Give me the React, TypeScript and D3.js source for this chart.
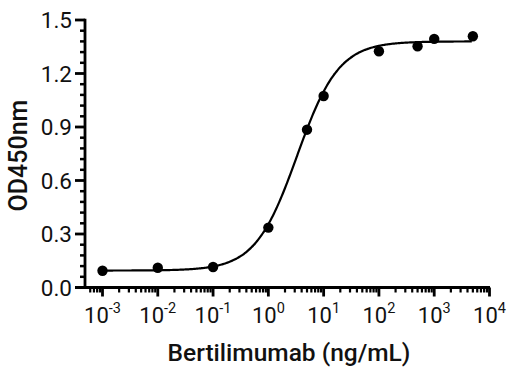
import React, { useEffect } from 'react'
import * as d3 from 'd3'

// measured points (ng/mL vs OD450)
const concentrations = [0.001, 0.01, 0.1, 1, 5, 10, 100, 500, 1000, 5000]
const od450 = [0.094, 0.111, 0.115, 0.336, 0.885, 1.074, 1.325, 1.353, 1.394, 1.409]

// 4PL fit
const fitBottom = 0.095
const fitTop = 1.38
const fitEC50 = 3.3
const fitHill = 1.15

const yTicks = [0, 0.3, 0.6, 0.9, 1.2, 1.5]
const xExponents = [-3, -2, -1, 0, 1, 2, 3, 4]

const width = 516
const height = 370
const font = 'Roboto, "Noto Sans", sans-serif'

const App = () => {
    useEffect(() => {
        document.body.style.margin = '0'
    }, [])

    const x = d3.scaleLog().domain([1e-3, 1e4]).range([102.5, 489.5])
    const y = d3.scaleLinear().domain([0, 1.5]).range([287.5, 20])
    const axisLeft = 85
    const axisRight = 490

    // minor ticks on the log axis, including the bit left of 10^-3
    const xMinor: number[] = []
    for (let e = -4; e < 4; e++) {
        for (let m = 2; m <= 9; m++) {
            const v = m * Math.pow(10, e)
            if (x(v) >= axisLeft + 2 && x(v) < 489) xMinor.push(v)
        }
    }
    const yMinor = d3.range(0, 1.5001, 0.06).filter(v => !yTicks.some(t => Math.abs(t - v) < 1e-6))

    const fourPL = (c: number) => fitBottom + (fitTop - fitBottom) / (1 + Math.pow(fitEC50 / c, fitHill))
    const curveX = d3.range(-3, Math.log10(5000) + 0.0001, 0.02).map(e => Math.pow(10, e))
    const line = d3.line<number>()
        .x(c => x(c))
        .y(c => y(fourPL(c)))
        .curve(d3.curveMonotoneX)

    const points = concentrations.map((c, i) => ({ c, v: od450[i] }))

    return (
        <svg width={width} height={height} style={{ display: 'block', background: '#fff' }} fontFamily={font}>
            {/* y axis */}
            <line x1={axisLeft} x2={axisLeft} y1={y(1.5) - 1.3} y2={y(0) + 1.3} stroke='#000' strokeWidth={2.8} />
            {yTicks.map(t => (
                <g key={'yt' + t}>
                    <line x1={axisLeft - 10} x2={axisLeft} y1={y(t)} y2={y(t)} stroke='#000' strokeWidth={2.8} />
                    <text x={72} y={y(t) + 8} textAnchor='end' fontSize={22.5} fill='#111'>{t.toFixed(1)}</text>
                </g>
            ))}
            {yMinor.map(t => (
                <line key={'ym' + t} x1={axisLeft - 5} x2={axisLeft} y1={y(t)} y2={y(t)} stroke='#000' strokeWidth={2.5} />
            ))}

            {/* x axis */}
            <line x1={axisLeft - 10} x2={axisRight} y1={y(0)} y2={y(0)} stroke='#000' strokeWidth={2.8} />
            {xExponents.map(e => {
                const v = Math.pow(10, e)
                return (
                    <g key={'xt' + e}>
                        <line x1={x(v)} x2={x(v)} y1={y(0)} y2={y(0) + 9} stroke='#000' strokeWidth={2.8} />
                        <text x={x(v)} y={323} textAnchor='middle' fontSize={22} fill='#111'>
                            10<tspan dy={-10} fontSize={14.5}>{e}</tspan>
                        </text>
                    </g>
                )
            })}
            {xMinor.map(v => (
                <line key={'xm' + v} x1={x(v)} x2={x(v)} y1={y(0)} y2={y(0) + 5} stroke='#000' strokeWidth={2.2} />
            ))}

            {/* fitted curve */}
            <path d={line(curveX) || ''} fill='none' stroke='#000' strokeWidth={2.2} />

            {/* data points */}
            {points.map(p => (
                <circle key={'p' + p.c} cx={x(p.c)} cy={y(p.v)} r={5.2} fill='#000' />
            ))}

            {/* axis titles */}
            <text x={289} y={361} textAnchor='middle' fontSize={24.5} fontWeight={500} fill='#111'>
                Bertilimumab (ng/mL)
            </text>
            <text transform={`translate(27,${y(0.74)}) rotate(-90)`} textAnchor='middle' fontSize={25} fontWeight={500} fill='#111'>
                OD450nm
            </text>
        </svg>
    )
}

export default App
